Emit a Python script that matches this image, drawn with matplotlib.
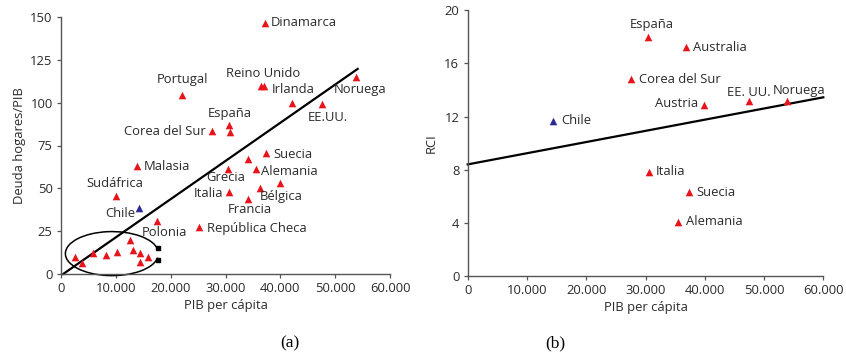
import matplotlib
matplotlib.use("Agg")
import matplotlib.pyplot as plt
from matplotlib.patches import Arc

# ---------------- data ----------------
# Panel (a): household debt / GDP vs GDP per capita (thousands)
a_names = ["Dinamarca", "Portugal", "Reino Unido", "", "Irlanda", "EE.UU.", "Noruega",
           "España", "", "Corea del Sur", "Suecia", "", "Malasia", "Grecia", "Alemania",
           "Sudáfrica", "Polonia", "República Checa", "Italia", "Francia", "Bélgica", "",
           "", "", "", "", "", "", "", "", "", ""]
a_gdp = [37.2, 22.1, 36.5, 37.1, 42.2, 47.6, 53.8,
         30.6, 30.8, 27.6, 37.4, 34.1, 13.9, 30.5, 35.5,
         10.0, 17.5, 25.1, 30.6, 34.1, 36.3, 40.0,
         2.6, 3.8, 5.8, 8.2, 10.2, 12.5, 13.1, 14.4, 14.4, 15.8]
a_debt = [146.7, 104.5, 110, 110, 100, 99, 115,
          87, 83, 83.5, 70.4, 67, 63.2, 61, 61.3,
          45.7, 31, 27.2, 47.7, 44, 50.4, 53,
          9.7, 6.6, 12, 11.1, 13, 19.8, 13.8, 12.5, 6.8, 9.7]
a_chile_gdp = [14.3]
a_chile_debt = [38.7]
a_fit_x = [0.4, 54.1]
a_fit_y = [0.0, 119.7]

# Panel (b): RCI vs GDP per capita (thousands)
b_names = ["España", "Australia", "Corea del Sur", "Austria", "EE. UU.", "Noruega",
           "Italia", "Suecia", "Alemania"]
b_gdp = [30.5, 36.8, 27.6, 39.9, 47.5, 53.8, 30.6, 37.3, 35.5]
b_rci = [18.0, 17.2, 14.8, 12.9, 13.2, 13.2, 7.85, 6.3, 4.1]
b_chile_gdp = [14.4]
b_chile_rci = [11.7]
b_fit_x = [0.0, 60.0]
b_fit_y = [8.4, 13.45]

x_ticks = [0, 10, 20, 30, 40, 50, 60]
x_ticklabels = ["0", "10.000", "20.000", "30.000", "40.000", "50.000", "60.000"]
a_yticks = [0, 25, 50, 75, 100, 125, 150]
b_yticks = [0, 4, 8, 12, 16, 20]

# ---------------- style / layout ----------------
FONT = "Open Sans"
FS = 9.4
RED = "#e8141c"
BLUE = "#2a2a96"
SPINE = "#555555"
TXT = "#2b2b2b"

# label offsets in pixels (dx, dy, ha, va)
a_lab = {
    "Dinamarca": (6, 0, "left", "center"),
    "Portugal": (0, 15, "center", "center"),
    "Reino Unido": (2, 12, "center", "center"),
    "Irlanda": (1, 13, "center", "center"),
    "EE.UU.": (6, -13, "center", "center"),
    "Noruega": (4, -13, "center", "center"),
    "España": (1, 11, "center", "center"),
    "Corea del Sur": (-7, -1, "right", "center"),
    "Suecia": (7, -1, "left", "center"),
    "Malasia": (7, -1, "left", "center"),
    "Grecia": (-3, -8, "center", "center"),
    "Alemania": (5, -3, "left", "center"),
    "Sudáfrica": (-1, 12, "center", "center"),
    "Polonia": (7, -12, "center", "center"),
    "República Checa": (8, -1, "left", "center"),
    "Italia": (-6, -1, "right", "center"),
    "Francia": (2, -11, "center", "center"),
    "Bélgica": (0, -9, "left", "center"),
}
b_lab = {
    "España": (3, 12, "center", "center"),
    "Australia": (7, 0, "left", "center"),
    "Corea del Sur": (8, 0, "left", "center"),
    "Austria": (-6, 1, "right", "center"),
    "EE. UU.": (0, 8, "center", "center"),
    "Noruega": (13, 10, "center", "center"),
    "Italia": (7, 0, "left", "center"),
    "Suecia": (8, 0, "left", "center"),
    "Alemania": (8, 0, "left", "center"),
}

plt.rcParams["font.family"] = [FONT, "DejaVu Sans"]

fig = plt.figure(figsize=(8.46, 3.56), dpi=100)
axA = fig.add_axes([61 / 846, 1 - 274 / 356, 329 / 846, 257 / 356])
axB = fig.add_axes([467.7 / 846, 1 - 276 / 356, 355.6 / 846, 265.7 / 356])


def style(ax, yticks):
    for s in ("top", "right"):
        ax.spines[s].set_visible(False)
    for s in ("left", "bottom"):
        ax.spines[s].set_color(SPINE)
        ax.spines[s].set_linewidth(1.0)
    ax.set_xlim(0, 60)
    ax.set_xticks(x_ticks)
    ax.set_xticklabels(x_ticklabels)
    ax.set_yticks(yticks)
    ax.set_ylim(yticks[0], yticks[-1])
    ax.tick_params(direction="out", length=3, width=0.9, color=SPINE,
                   labelsize=FS, labelcolor=TXT, pad=3)
    ax.set_xlabel("PIB per cápita", fontsize=FS, color=TXT, labelpad=3)


def annotate(ax, names, xs, ys, offs):
    for n, x, y in zip(names, xs, ys):
        if n in offs:
            dx, dy, ha, va = offs[n]
            ax.annotate(n, (x, y), xytext=(dx, dy), textcoords="offset pixels",
                        ha=ha, va=va, fontsize=FS, color=TXT)


# Panel (a)
style(axA, a_yticks)
axA.plot(a_fit_x, a_fit_y, color="black", lw=1.6, zorder=2, clip_on=False)
axA.scatter(a_gdp, a_debt, marker="^", s=30, color=RED, zorder=3, linewidths=0)
axA.scatter(a_chile_gdp, a_chile_debt, marker="^", s=30, color=BLUE, zorder=3, linewidths=0)
done = set()
names_u = []
for n in a_names:
    if n and n not in done:
        done.add(n)
        names_u.append(n)
    else:
        names_u.append("")
annotate(axA, names_u, a_gdp, a_debt, a_lab)
annotate(axA, ["Chile"], a_chile_gdp, a_chile_debt, {"Chile": (-4, -6, "right", "center")})
arc = Arc((9.3, 11.9), 17.0, 25.7, theta1=16, theta2=344, color="black", lw=1.1,
          zorder=2, clip_on=False)
axA.add_patch(arc)
axA.plot([17.7, 17.7], [15.4, 8.3], ls="none", marker="s", ms=2.2, color="black", clip_on=False)
axA.set_ylabel("Deuda hogares/PIB", fontsize=FS, color=TXT, labelpad=3)

# Panel (b)
style(axB, b_yticks)
axB.plot(b_fit_x, b_fit_y, color="black", lw=1.6, zorder=2, clip_on=False)
axB.scatter(b_gdp, b_rci, marker="^", s=30, color=RED, zorder=3, linewidths=0)
axB.scatter(b_chile_gdp, b_chile_rci, marker="^", s=30, color=BLUE, zorder=3, linewidths=0)
annotate(axB, b_names, b_gdp, b_rci, b_lab)
annotate(axB, ["Chile"], b_chile_gdp, b_chile_rci, {"Chile": (8, 0, "left", "center")})
axB.set_ylabel("RCI", fontsize=FS, color=TXT, labelpad=5)

fig.text(290 / 846, 1 - 343 / 356, "(a)", ha="center", va="center",
         fontsize=12.5, family="Liberation Serif")
fig.text(555 / 846, 1 - 343 / 356, "(b)", ha="center", va="center",
         fontsize=12.5, family="Liberation Serif")

fig.savefig("out.png", dpi=100)
